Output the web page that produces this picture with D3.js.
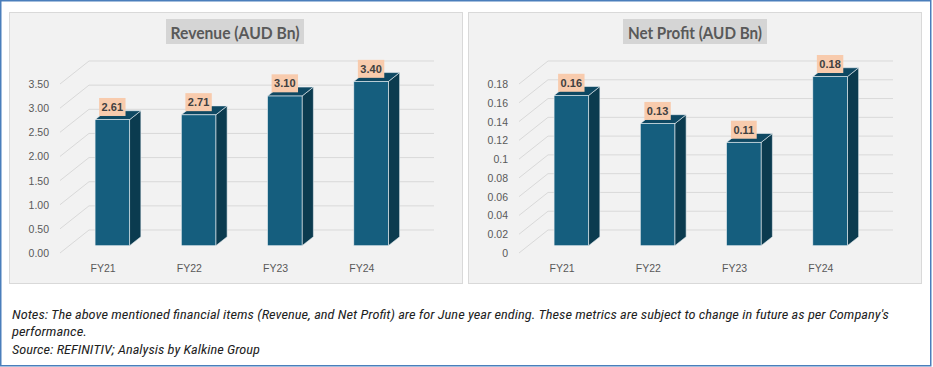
<!DOCTYPE html>
<html><head><meta charset="utf-8">
<script src="https://cdn.jsdelivr.net/npm/d3@7"></script>
<style>html,body{margin:0;padding:0;background:#fff;}svg{display:block;}</style>
</head><body>
<svg id="chart" width="933" height="367"></svg>
<script>
// ---- data ----
const categories = ["FY21", "FY22", "FY23", "FY24"];
const revenueValues = [2.61, 2.71, 3.10, 3.40];
const profitValues = [0.16, 0.13, 0.11, 0.18];
const revenueTicks = [0, 0.5, 1.0, 1.5, 2.0, 2.5, 3.0, 3.5];
const profitTicks = [0, 0.02, 0.04, 0.06, 0.08, 0.1, 0.12, 0.14, 0.16, 0.18];
const revenueTitle = "Revenue (AUD Bn)";
const profitTitle = "Net Profit (AUD Bn)";
const notes = [
  "Notes: The above mentioned financial items (Revenue, and Net Profit) are for June year ending. These metrics are subject to change in future as per Company's",
  "performance.",
  "Source: REFINITIV; Analysis by Kalkine Group"
];

const svg = d3.select("#chart");

// outer frame
svg.append("rect").attr("x", 0.75).attr("y", 0.75).attr("width", 930).attr("height", 365)
  .attr("fill", "#fff").attr("stroke", "#4a7ebb").attr("stroke-width", 1.5);

const DX = 29, DY = 23;           // depth of the wall (front -> back)
const BAR_PLANE = 0.317;          // bar front plane depth fraction
const BAR_DEPTH = 0.39;           // bar thickness as fraction of depth

function drawPanel(ox, values, ticks, maxV, tickFmt, title, titleW, titleBox) {
  const g = svg.append("g").attr("transform", `translate(${ox},0)`);
  g.append("rect").attr("x", 9.5).attr("y", 12.5).attr("width", 453).attr("height", 271)
    .attr("fill", "#f2f2f2").attr("stroke", "#d9d9d9").attr("stroke-width", 1);

  // title
  g.append("rect").attr("x", titleBox[0]).attr("y", 19).attr("width", titleBox[1]).attr("height", 25)
    .attr("fill", "#d5d5d5");
  g.append("text").attr("x", titleBox[0] + titleBox[1] / 2).attr("y", 32)
    .attr("text-anchor", "middle").attr("dominant-baseline", "central")
    .attr("font-family", "Lato, 'Liberation Sans', sans-serif").attr("font-weight", "bold")
    .attr("font-size", 17).attr("fill", "#595959")
    .attr("textLength", titleW).attr("lengthAdjust", "spacingAndGlyphs")
    .text(title);

  const x = d3.scaleBand().domain(categories).range([60, 405]).padding(0);
  const y = d3.scaleLinear().domain([0, maxV]).range([253, 84]);

  // gridlines: back wall horizontals + left side diagonals
  ticks.forEach(t => {
    const yf = y(t);
    g.append("line").attr("x1", 60 + DX).attr("x2", 405 + DX)
      .attr("y1", yf - DY).attr("y2", yf - DY)
      .attr("stroke", "#d9d9d9").attr("stroke-width", 1);
    g.append("line").attr("x1", 60).attr("y1", yf).attr("x2", 60 + DX).attr("y2", yf - DY)
      .attr("stroke", "#d9d9d9").attr("stroke-width", 1);
    g.append("text").attr("x", 49).attr("y", yf)
      .attr("text-anchor", "end").attr("dominant-baseline", "central")
      .attr("font-family", "'Liberation Sans', Arial, sans-serif").attr("font-size", 10.5)
      .attr("fill", "#595959").text(tickFmt(t));
  });

  // category labels
  g.selectAll("text.cat").data(categories).join("text").attr("class", "cat")
    .attr("x", d => x(d) + x.bandwidth() / 2).attr("y", 267.5)
    .attr("text-anchor", "middle").attr("dominant-baseline", "central")
    .attr("font-family", "'Liberation Sans', Arial, sans-serif").attr("font-size", 10.5)
    .attr("fill", "#595959").text(d => d);

  // bars
  const pdx = BAR_PLANE * DX, pdy = BAR_PLANE * DY;
  const bdx = BAR_DEPTH * DX, bdy = BAR_DEPTH * DY;
  const bw = x.bandwidth() * 0.4;
  categories.forEach((c, i) => {
    const v = values[i];
    const x0 = x(c) + x.bandwidth() * 0.3 + pdx;
    const x1 = x0 + bw;
    const yb = y(0) - pdy;
    const yt = y(v) - pdy;
    const bar = g.append("g");
    // side
    bar.append("path").attr("d", `M${x1},${yt}L${x1 + bdx},${yt - bdy}L${x1 + bdx},${yb - bdy}L${x1},${yb}Z`)
      .attr("fill", "#0b3b4f").attr("stroke", "#e8eef1").attr("stroke-width", 0.6).attr("stroke-linejoin", "round");
    // top
    bar.append("path").attr("d", `M${x0},${yt}L${x0 + bdx},${yt - bdy}L${x1 + bdx},${yt - bdy}L${x1},${yt}Z`)
      .attr("fill", "#0e4862").attr("stroke", "#e8eef1").attr("stroke-width", 0.6).attr("stroke-linejoin", "round");
    // front
    bar.append("rect").attr("x", x0).attr("y", yt).attr("width", bw).attr("height", yb - yt)
      .attr("fill", "#155e7e").attr("stroke", "#e8eef1").attr("stroke-width", 0.6);

    // data label
    const cx = (x0 + x1) / 2;
    const lbl = bar.append("g");
    const t = lbl.append("text").attr("x", cx).attr("y", yt - 12.7)
      .attr("text-anchor", "middle").attr("dominant-baseline", "central")
      .attr("font-family", "'Liberation Sans', Arial, sans-serif").attr("font-weight", "bold")
      .attr("font-size", 11).attr("fill", "#404040").text(d3.format(".2f")(v));
    const tw = t.node().getComputedTextLength();
    lbl.insert("rect", "text").attr("x", cx - (tw + 5) / 2).attr("y", yt - 21.7)
      .attr("width", tw + 5).attr("height", 18).attr("fill", "#f8cbad");
  });
}

drawPanel(0, revenueValues, revenueTicks, 3.5, d3.format(".2f"), revenueTitle, 129, [166, 138]);
drawPanel(459, profitValues, profitTicks, 0.18, v => String(+v.toFixed(2)), profitTitle, 134, [164, 144]);

// notes
const noteW = [877, 75, 248];
const noteY = [314, 331, 349];
notes.forEach((n, i) => {
  svg.append("text").attr("x", 12).attr("y", noteY[i]).attr("dominant-baseline", "central")
    .attr("font-family", "'Liberation Sans Narrow', 'Roboto Condensed', 'Liberation Sans', sans-serif")
    .attr("font-style", "italic").attr("font-size", 13).attr("fill", "#1f1f1f")
    .attr("textLength", noteW[i]).attr("lengthAdjust", "spacingAndGlyphs")
    .text(n);
});
</script>
</body></html>
